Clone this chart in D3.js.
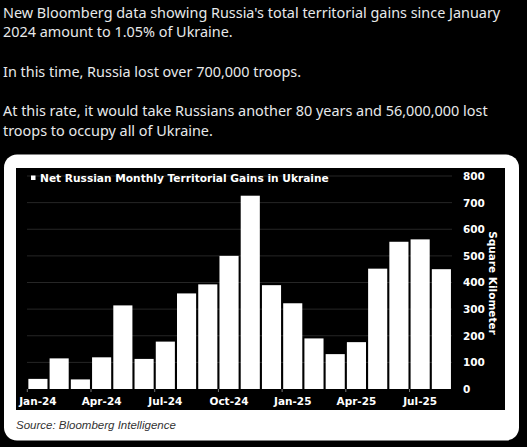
<!DOCTYPE html>
<html>
<head>
<meta charset="utf-8">
<script src="https://cdn.jsdelivr.net/npm/d3@7"></script>
<style>
  html, body { margin: 0; padding: 0; background: #000; }
  svg { display: block; }
</style>
</head>
<body>
<svg id="chart" width="527" height="447"></svg>
<script>
const introLines = [
  "New Bloomberg data showing Russia's total territorial gains since January",
  "2024 amount to 1.05% of Ukraine.",
  "",
  "In this time, Russia lost over 700,000 troops.",
  "",
  "At this rate, it would take Russians another 80 years and 56,000,000 lost",
  "troops to occupy all of Ukraine."
];
const months = ["Jan-24","Feb-24","Mar-24","Apr-24","May-24","Jun-24","Jul-24","Aug-24","Sep-24","Oct-24","Nov-24","Dec-24",
                "Jan-25","Feb-25","Mar-25","Apr-25","May-25","Jun-25","Jul-25","Aug-25"];
const gains = [38, 115, 36, 119, 314, 113, 178, 359, 393, 500, 726, 390,
               322, 190, 131, 176, 452, 553, 562, 450];
const tickLabels = ["Jan-24","Apr-24","Jul-24","Oct-24","Jan-25","Apr-25","Jul-25"];
const yTicks = [0, 100, 200, 300, 400, 500, 600, 700, 800];
const chartTitle = "Net Russian Monthly Territorial Gains in Ukraine";
const yTitle = "Square Kilometer";
const sourceText = "Source: Bloomberg Intelligence";

const svg = d3.select("#chart");
svg.append("rect").attr("width", 527).attr("height", 447).attr("fill", "#000");

// Intro text
const intro = svg.append("g");
const baselines = [17.5, 37, 57, 76.5, 96, 116, 136];
introLines.forEach((t, i) => {
  if (!t) return;
  intro.append("text")
    .attr("x", 3).attr("y", baselines[i])
    .attr("fill", "#e7e9ea")
    .attr("font-family", "'Noto Sans', 'Open Sans', sans-serif")
    .attr("font-size", 15.2)
    .text(t);
});
// fit first line width
const first = intro.select("text").node();
const w0 = first.getComputedTextLength();
const scaleF = 497 / w0;
intro.selectAll("text").attr("font-size", 15.2 * scaleF);

// Card
svg.append("rect").attr("x", 4).attr("y", 154.5).attr("width", 515).attr("height", 286)
  .attr("rx", 13).attr("fill", "#fff");
svg.append("rect").attr("x", 16).attr("y", 168).attr("width", 489).attr("height", 242)
  .attr("fill", "#000");

const x = d3.scaleBand().domain(months).range([27.3, 452]).paddingInner(0.1).paddingOuter(0.05);
const y = d3.scaleLinear().domain([0, 800]).range([389, 176]);

// Gridlines
svg.append("g").selectAll("line").data(yTicks.filter(d => d > 0)).join("line")
  .attr("x1", 27).attr("x2", 452)
  .attr("y1", d => y(d)).attr("y2", d => y(d))
  .attr("stroke", "#262626").attr("stroke-width", 1);

// Bars
svg.append("g").selectAll("rect").data(months).join("rect")
  .attr("x", d => x(d))
  .attr("width", x.bandwidth())
  .attr("y", (d, i) => y(gains[i]))
  .attr("height", (d, i) => y(0) - y(gains[i]))
  .attr("fill", "#fff");

// X axis
const xAxis = d3.axisBottom(x).tickValues(tickLabels).tickSize(0).tickPadding(8);
const gx = svg.append("g").attr("transform", `translate(0,${y(0)})`).call(xAxis);
gx.select(".domain").remove();
gx.selectAll("text")
  .attr("fill", "#fff")
  .attr("font-family", "'DejaVu Sans', Verdana, sans-serif")
  .attr("font-weight", "bold")
  .attr("font-size", 10.5)
  .attr("dy", "0.71em")
  .attr("y", 9);
// small ticks at left of quarter bars
svg.append("g").selectAll("line").data(tickLabels).join("line")
  .attr("x1", d => x(d) - x.step() * x.paddingInner() / 2)
  .attr("x2", d => x(d) - x.step() * x.paddingInner() / 2)
  .attr("y1", y(0)).attr("y2", y(0) + 3)
  .attr("stroke", "#777").attr("stroke-width", 1);

// Y axis (right)
const yAxis = d3.axisRight(y).tickValues(yTicks).tickSize(0).tickPadding(0);
const gy = svg.append("g").attr("transform", "translate(463,0)").call(yAxis);
gy.select(".domain").remove();
gy.selectAll("text")
  .attr("fill", "#fff")
  .attr("font-family", "'DejaVu Sans', Verdana, sans-serif")
  .attr("font-weight", "bold")
  .attr("font-size", 10.5);

svg.append("text")
  .attr("transform", "translate(489,283) rotate(90)")
  .attr("text-anchor", "middle")
  .attr("fill", "#fff")
  .attr("font-family", "'DejaVu Sans', Verdana, sans-serif")
  .attr("font-weight", "bold")
  .attr("font-size", 10.5)
  .text(yTitle);

// Title
svg.append("rect").attr("x", 31).attr("y", 175.5).attr("width", 4.5).attr("height", 4.5).attr("fill", "#fff");
const title = svg.append("text")
  .attr("x", 40).attr("y", 181.5)
  .attr("fill", "#fff")
  .attr("font-family", "'DejaVu Sans', Verdana, sans-serif")
  .attr("font-weight", "bold")
  .attr("font-size", 10.5)
  .text(chartTitle);
const tw = title.node().getComputedTextLength();
title.attr("font-size", 10.5 * 289 / tw);

// Source
svg.append("text")
  .attr("x", 16).attr("y", 429)
  .attr("fill", "#333")
  .attr("font-family", "'Liberation Sans', Arial, sans-serif")
  .attr("font-style", "italic")
  .attr("font-size", 11.5)
  .text(sourceText);
</script>
</body>
</html>
